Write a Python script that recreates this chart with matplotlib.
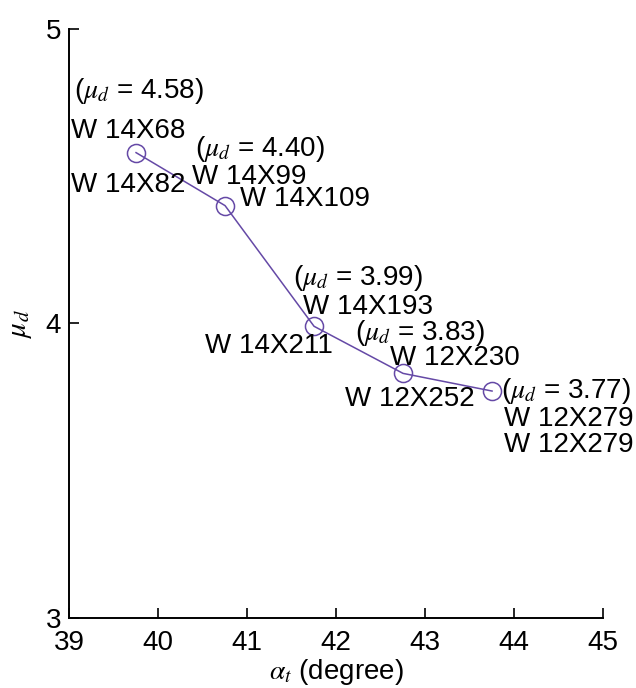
import matplotlib
matplotlib.use("Agg")
import matplotlib.pyplot as plt

# ---- data ----
alpha_t = [39.75, 40.75, 41.75, 42.75, 43.75]
mu_d = [4.58, 4.40, 3.99, 3.83, 3.77]
mu_labels = ["4.58", "4.40", "3.99", "3.83", "3.77"]
section_labels = [
    ["W 14X68", "W 14X82"],
    ["W 14X99", "W 14X109"],
    ["W 14X193", "W 14X211"],
    ["W 12X230", "W 12X252"],
    ["W 12X279", "W 12X279"],
]
x_ticks = [39, 40, 41, 42, 43, 44, 45]
y_ticks = [3, 4, 5]

plt.rcParams['font.family'] = ['Liberation Sans', 'DejaVu Sans']
plt.rcParams['mathtext.fontset'] = 'stix'

fig = plt.figure(figsize=(6.36, 6.88), dpi=100)
ax = fig.add_axes([69.3 / 636, 1 - 617.7 / 688, (603.3 - 69.3) / 636, (617.7 - 29) / 688])

color = '#6549a6'
ax.plot(alpha_t, mu_d, '-', color=color, lw=1.1, marker='o', markersize=13,
        markerfacecolor='none', markeredgecolor=color, markeredgewidth=1.1)

ax.set_xlim(39, 45)
ax.set_ylim(3, 5)
ax.set_xticks(x_ticks)
ax.set_yticks(y_ticks)
ax.tick_params(direction='in', length=7, width=1.2, labelsize=20, pad=9, colors='black')
ax.tick_params(axis='y', pad=6)
for s in ['top', 'right']:
    ax.spines[s].set_visible(False)
for s in ['left', 'bottom']:
    ax.spines[s].set_linewidth(1.4)

ax.set_xlabel(r'$\alpha_t$ (degree)', fontsize=20, labelpad=0.5)
ax.set_ylabel(r'$\mu_d$', fontsize=21, labelpad=8)

fs = 20
# offsets in pixels (dx of left edge, dy of baseline) relative to each point
mu_offsets = [(-62, 55), (-30, 50), (-21, 41), (-48, 33), (9, -7)]
sec_offsets = [
    [(-65, 15), (-65, -39)],
    [(-33, 22), (15, 0)],
    [(-11, 12), (-109, -27)],
    [(-13, 8), (-58, -33)],
    [(12, -35), (12, -61)],
]
for i in range(len(alpha_t)):
    ax.annotate('(' + r'$\mu_{d}$' + ' = ' + mu_labels[i] + ')',
                (alpha_t[i], mu_d[i]), xytext=mu_offsets[i], textcoords='offset pixels',
                ha='left', va='baseline', fontsize=fs)
    for j, lab in enumerate(section_labels[i]):
        ax.annotate(lab, (alpha_t[i], mu_d[i]), xytext=sec_offsets[i][j],
                    textcoords='offset pixels', ha='left', va='baseline', fontsize=fs)

fig.savefig('out.png', dpi=100)
